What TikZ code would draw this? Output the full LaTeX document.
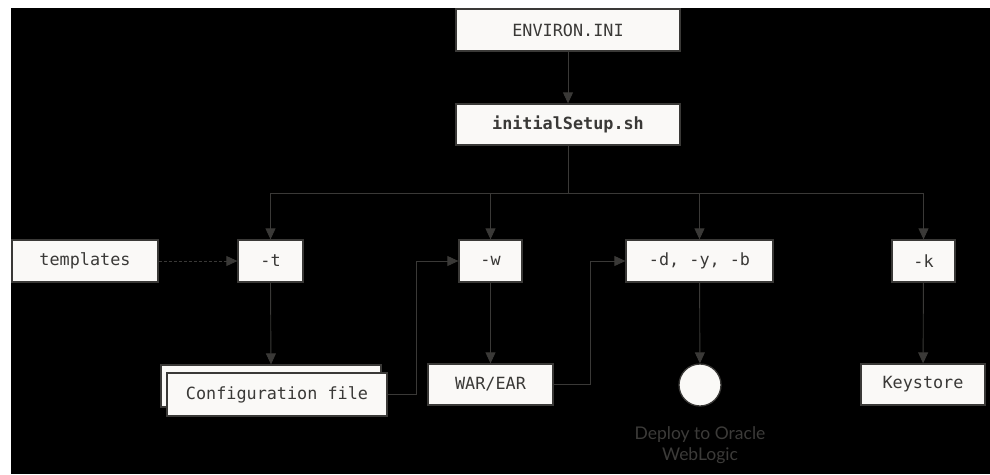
\documentclass[tikz,border=0pt]{standalone}
\usepackage{fontspec}
\setmonofont{DejaVu Sans Mono}
\newfontfamily\lblfont{Lato}
\usetikzlibrary{arrows.meta,calc}
\definecolor{boxfill}{HTML}{FAF9F7}
\definecolor{ink}{HTML}{3A3937}
\definecolor{lbl}{HTML}{3C3B39}
\begin{document}
\begin{tikzpicture}[x=1pt,y=-1pt,
  box/.style={draw=ink,line width=1.3pt,fill=boxfill,text=ink,inner sep=0pt,
    font=\ttfamily\fontsize{16.8}{19}\selectfont},
  conn/.style={draw=ink,line width=0.9pt},
  arr/.style={conn,-{Triangle[width=10pt,length=11pt]}}]
\fill[white] (0,0) rectangle (990,474);
\fill[black] (11,8) rectangle (990,474);
\useasboundingbox (0,0) rectangle (990,474);

\node[box,minimum width=224pt,minimum height=42pt] (env) at (568,30) {ENVIRON.INI};
\node[box,minimum width=224pt,minimum height=41pt,font=\ttfamily\bfseries\fontsize{16.8}{19}\selectfont] (init) at (568,124.5) {initialSetup.sh};
\node[box,minimum width=146pt,minimum height=42pt] (tmpl) at (85,261) {templates};
\node[box,minimum width=65pt,minimum height=42pt] (t) at (270.5,261) {-t};
\node[box,minimum width=63pt,minimum height=42pt] (w) at (490.5,261) {-w};
\node[box,minimum width=147pt,minimum height=42pt] (d) at (699.5,261) {-d, -y, -b};
\node[box,minimum width=63pt,minimum height=42pt] (k) at (923.5,261) {-k};
\node[box,minimum width=220pt,minimum height=42pt] (cfgb) at (271,386) {};
\node[box,minimum width=220pt,minimum height=43pt] (cfg) at (277,394.5) {Configuration file};
\node[box,minimum width=125pt,minimum height=41pt] (war) at (490.5,384.5) {WAR/EAR};
\node[box,minimum width=124pt,minimum height=41pt] (ks) at (923,384.5) {Keystore};
\node[draw=ink,line width=1.3pt,fill=boxfill,circle,minimum size=42pt,inner sep=0pt] (dep) at (700,385) {};
\node[text=lbl,font=\lblfont\fontsize{17.5}{21}\selectfont,align=center,anchor=north] (deplbl) at (700,423) {Deploy to Oracle\\WebLogic};

\coordinate (bus) at (568,193);
\coordinate (j1) at (416,394.5);
\coordinate (j2) at (590,384.5);

\draw[arr] (env) -- (init);
\draw[conn] (init.south) -- (bus);
\draw[conn] (t.north |- bus) -- (k.north |- bus);
\draw[arr] (t.north |- bus) -- (t.north);
\draw[arr] (w.north |- bus) -- (w.north);
\draw[arr] (d.north |- bus) -- (d.north);
\draw[arr] (k.north |- bus) -- (k.north);
\draw[arr,dashed,dash pattern=on 3pt off 2pt] (tmpl) -- (t);
\draw[arr] (t.south) -- (cfgb.north);
\draw[arr] (w) -- (war);
\draw[arr] (d) -- (dep);
\draw[arr] (k) -- (ks);
\draw[arr] (cfg.east) -- (j1) |- (w.west);
\draw[arr] (war.east) -- (j2) |- (d.west);
\end{tikzpicture}
\end{document}
